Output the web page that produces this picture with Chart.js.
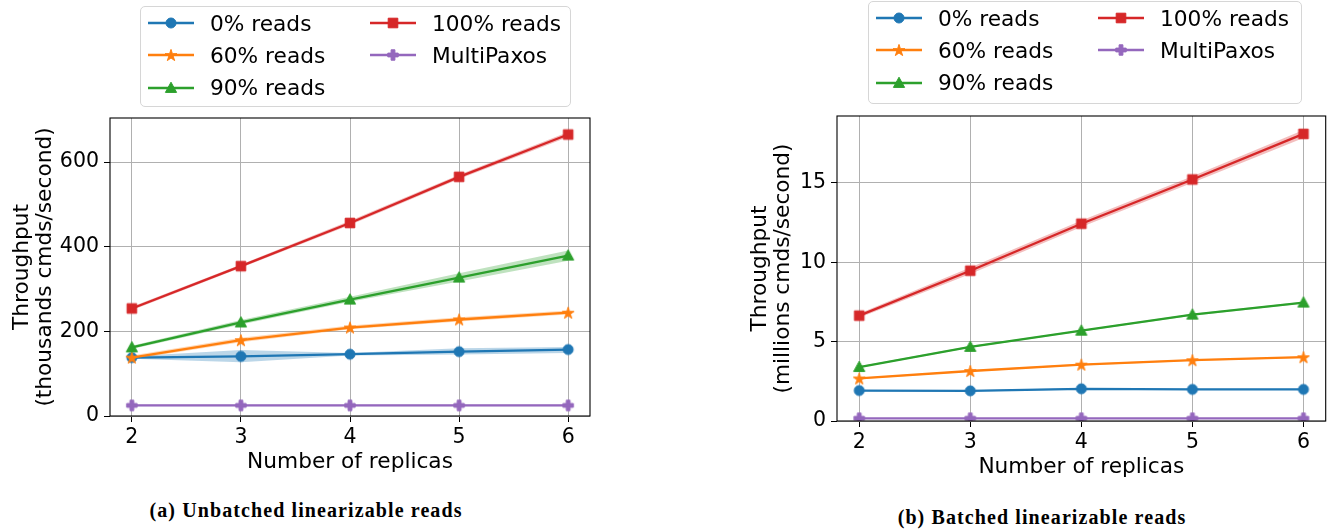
<!DOCTYPE html>
<html><head><meta charset="utf-8">
<script src="https://cdn.jsdelivr.net/npm/chart.js@4.4.1/dist/chart.umd.min.js"></script>
<style>
html,body{margin:0;padding:0;background:#fff;width:1333px;height:529px;overflow:hidden;font-family:"DejaVu Sans";}
.cv{position:absolute;}
.legend{position:absolute;border:1px solid #d6d6d6;border-radius:5px;background:#fff;box-sizing:border-box;}
.item{position:absolute;height:30px;display:flex;align-items:center;font:21.7px "DejaVu Sans";color:#000;white-space:nowrap;}
.item canvas{margin-right:16px;}
.cap{position:absolute;font:bold 20px "Liberation Serif";letter-spacing:1.1px;transform:translateX(-50%);white-space:nowrap;line-height:22px;color:#000;}
</style></head><body>
<div class="cv" style="left:0;top:108px;width:600px;height:370px;"><canvas id="c1" width="600" height="370"></canvas></div>
<div class="cv" style="left:738px;top:106px;width:595px;height:377px;"><canvas id="c2" width="595" height="377"></canvas></div>
<div id="leg1" class="legend" style="left:140px;top:6px;width:431px;height:101px;"></div>
<div id="leg2" class="legend" style="left:868px;top:1px;width:434px;height:103px;"></div>
<div class="cap" style="left:306px;top:499px;">(a) Unbatched linearizable reads</div>
<div class="cap" style="left:1042px;top:506px;">(b) Batched linearizable reads</div>
<script>
// ---------- data ----------
const replicas = [2, 3, 4, 5, 6];
const seriesLabels = ['0% reads', '60% reads', '90% reads', '100% reads', 'MultiPaxos'];
const seriesColors = ['#1f77b4', '#ff7f0e', '#2ca02c', '#d62728', '#9467bd'];
const seriesMarkers = ['circle', 'star', 'triangle', 'square', 'plus'];

// (a) unbatched, thousands cmds/second
const unb0   = [138, 141, 146, 152, 157];
const unb0Lo = [135, 127, 143, 145, 149];
const unb0Hi = [141, 156, 149, 160, 163];
const unb60   = [138, 179, 209, 228, 244];
const unb60Lo = [134, 174, 205, 223, 240];
const unb60Hi = [143, 185, 214, 233, 249];
const unb90   = [162, 221, 275, 327, 379];
const unb90Lo = [158, 216, 270, 318, 367];
const unb90Hi = [166, 227, 282, 337, 391];
const unb100   = [254, 354, 456, 565, 665];
const unb100Lo = [250, 350, 451, 560, 659];
const unb100Hi = [258, 358, 461, 570, 671];
const unbMP   = [25, 25, 25, 25, 25];
const unbMPLo = [23, 23, 23, 23, 23];
const unbMPHi = [27, 27, 27, 27, 27];
const yTicksA = [0, 200, 400, 600];

// (b) batched, millions cmds/second
const bat0   = [1.92, 1.90, 2.03, 1.99, 1.99];
const bat0Lo = [1.88, 1.86, 1.98, 1.95, 1.95];
const bat0Hi = [1.96, 1.94, 2.08, 2.03, 2.03];
const bat60   = [2.68, 3.15, 3.55, 3.83, 4.02];
const bat60Lo = [2.63, 3.10, 3.50, 3.78, 3.97];
const bat60Hi = [2.73, 3.20, 3.60, 3.88, 4.07];
const bat90   = [3.40, 4.67, 5.69, 6.70, 7.46];
const bat90Lo = [3.35, 4.62, 5.64, 6.64, 7.40];
const bat90Hi = [3.45, 4.72, 5.74, 6.76, 7.52];
const bat100   = [6.64, 9.47, 12.43, 15.22, 18.09];
const bat100Lo = [6.50, 9.27, 12.23, 15.02, 17.84];
const bat100Hi = [6.78, 9.67, 12.63, 15.42, 18.34];
const batMP   = [0.17, 0.17, 0.17, 0.17, 0.17];
const batMPLo = [0.15, 0.15, 0.15, 0.15, 0.15];
const batMPHi = [0.19, 0.19, 0.19, 0.19, 0.19];
const yTicksB = [0, 5, 10, 15];

// ---------- markers ----------
function makeMarker(shape, color) {
  const S = 16, c = document.createElement('canvas');
  c.width = S; c.height = S;
  const g = c.getContext('2d'), m = S / 2;
  g.fillStyle = color; g.strokeStyle = color; g.lineWidth = 1;
  g.beginPath();
  if (shape === 'circle') {
    g.arc(m, m, 5, 0, Math.PI * 2);
  } else if (shape === 'square') {
    g.rect(m - 4.8, m - 4.8, 9.6, 9.6);
  } else if (shape === 'triangle') {
    g.moveTo(m, m - 5.8); g.lineTo(m + 5.6, m + 4.4); g.lineTo(m - 5.6, m + 4.4); g.closePath();
  } else if (shape === 'star') {
    const R = 6.2, r = R * 0.381966;
    for (let i = 0; i < 10; i++) {
      const a = -Math.PI / 2 + i * Math.PI / 5, rr = i % 2 ? r : R;
      const px = m + rr * Math.cos(a), py = m + 0.6 + rr * Math.sin(a);
      if (i) g.lineTo(px, py); else g.moveTo(px, py);
    }
    g.closePath();
  } else if (shape === 'plus') {
    const a = 5.2, w = 1.9;
    g.moveTo(m - w, m - a); g.lineTo(m + w, m - a); g.lineTo(m + w, m - w); g.lineTo(m + a, m - w);
    g.lineTo(m + a, m + w); g.lineTo(m + w, m + w); g.lineTo(m + w, m + a); g.lineTo(m - w, m + a);
    g.lineTo(m - w, m + w); g.lineTo(m - a, m + w); g.lineTo(m - a, m - w); g.lineTo(m - w, m - w);
    g.closePath();
  }
  g.fill(); g.stroke();
  return c;
}
const markerImgs = seriesMarkers.map((s, i) => makeMarker(s, seriesColors[i]));

function rgba(hex, a) {
  const n = parseInt(hex.slice(1), 16);
  return `rgba(${n >> 16},${(n >> 8) & 255},${n & 255},${a})`;
}

function buildDatasets(mains, los, his) {
  const ds = [];
  const lineOrder = [5, 4, 3, 2, 1];
  mains.forEach((vals, i) => {
    ds.push({ label: seriesLabels[i], data: vals.map((v, k) => ({ x: replicas[k], y: v })),
      borderColor: seriesColors[i], backgroundColor: seriesColors[i], borderWidth: 2.3,
      pointStyle: markerImgs[i], pointRadius: 5, fill: false, order: lineOrder[i], tension: 0 });
  });
  mains.forEach((vals, i) => {
    ds.push({ label: '', isBand: true, data: los[i].map((v, k) => ({ x: replicas[k], y: v })),
      borderWidth: 0, pointRadius: 0, fill: false, order: 10, borderColor: 'rgba(0,0,0,0)' });
    ds.push({ label: '', isBand: true, data: his[i].map((v, k) => ({ x: replicas[k], y: v })),
      borderWidth: 0, pointRadius: 0, fill: '-1', order: 10, borderColor: 'rgba(0,0,0,0)',
      backgroundColor: rgba(seriesColors[i], 0.3) });
  });
  return ds;
}

const framePlugin = {
  id: 'frame',
  afterDatasetsDraw(chart) {
    const { ctx, chartArea: a } = chart;
    ctx.save(); ctx.strokeStyle = '#000'; ctx.lineWidth = 1.1;
    ctx.strokeRect(a.left, a.top, a.right - a.left, a.bottom - a.top);
    ctx.restore();
  }
};

function makeChart(id, mains, los, his, yMax, yTicks, yTitle, yAxisW, padRight) {
  const tickFont = { family: 'DejaVu Sans', size: 20.5 };
  const titleFont = { family: 'DejaVu Sans', size: 21.7, lineHeight: 1.1 };
  return new Chart(document.getElementById(id), {
    type: 'line',
    data: { datasets: buildDatasets(mains, los, his) },
    plugins: [framePlugin],
    options: {
      responsive: false, animation: false, devicePixelRatio: 1,
      layout: { padding: { top: 10, right: padRight, left: 0, bottom: 0 } },
      plugins: { legend: { display: false }, tooltip: { enabled: false } },
      scales: {
        x: {
          type: 'linear', min: 1.8, max: 6.2,
          afterBuildTicks: s => { s.ticks = replicas.map(v => ({ value: v })); },
          afterFit: s => { s.height = 62; s.paddingLeft = 0; s.paddingRight = 0; },
          grid: { color: '#b0b0b0', lineWidth: 1, tickColor: '#000', tickLength: 6 },
          border: { display: false },
          ticks: { font: tickFont, color: '#000', padding: 3, maxRotation: 0, autoSkip: false,
                   callback: v => String(v) },
          title: { display: true, text: 'Number of replicas', font: titleFont, color: '#000',
                   padding: { top: 0, bottom: 4 } }
        },
        y: {
          type: 'linear', min: 0, max: yMax,
          afterBuildTicks: s => { s.ticks = yTicks.map(v => ({ value: v })); },
          afterFit: s => { s.width = yAxisW; s.paddingTop = 0; s.paddingBottom = 0; },
          grid: { color: '#b0b0b0', lineWidth: 1, tickColor: '#000', tickLength: 6 },
          border: { display: false },
          ticks: { font: tickFont, color: '#000', padding: 5, callback: v => String(v) },
          title: { display: true, text: yTitle, font: titleFont, color: '#000',
                   padding: { top: 10, bottom: 0 } }
        }
      }
    }
  });
}

const chartA = makeChart('c1',
  [unb0, unb60, unb90, unb100, unbMP],
  [unb0Lo, unb60Lo, unb90Lo, unb100Lo, unbMPLo],
  [unb0Hi, unb60Hi, unb90Hi, unb100Hi, unbMPHi],
  704, yTicksA, ['Throughput', '(thousands cmds/second)'], 110, 10);

const chartB = makeChart('c2',
  [bat0, bat60, bat90, bat100, batMP],
  [bat0Lo, bat60Lo, bat90Lo, bat100Lo, batMPLo],
  [bat0Hi, bat60Hi, bat90Hi, bat100Hi, batMPHi],
  19.22, yTicksB, ['Throughput', '(millions cmds/second)'], 99, 3);

// ---------- legends (built from the chart datasets) ----------
function buildLegend(elId, chart) {
  const box = document.getElementById(elId);
  const mains = chart.data.datasets.filter(d => !d.isBand);
  const nrows = Math.ceil(mains.length / 2);
  mains.forEach((d, i) => {
    const col = Math.floor(i / nrows), row = i % nrows;
    const item = document.createElement('div');
    item.className = 'item';
    item.style.left = (7 + col * 222) + 'px';
    item.style.top = (16 + row * 32.3 - 15) + 'px';
    const cv = document.createElement('canvas');
    cv.width = 46; cv.height = 20;
    const g = cv.getContext('2d');
    g.strokeStyle = d.borderColor; g.lineWidth = 2.3;
    g.beginPath(); g.moveTo(0, 10); g.lineTo(46, 10); g.stroke();
    g.drawImage(d.pointStyle, 23 - 8, 10 - 8);
    item.appendChild(cv);
    item.appendChild(document.createTextNode(d.label));
    box.appendChild(item);
  });
}
buildLegend('leg1', chartA);
buildLegend('leg2', chartB);
</script>
</body></html>
